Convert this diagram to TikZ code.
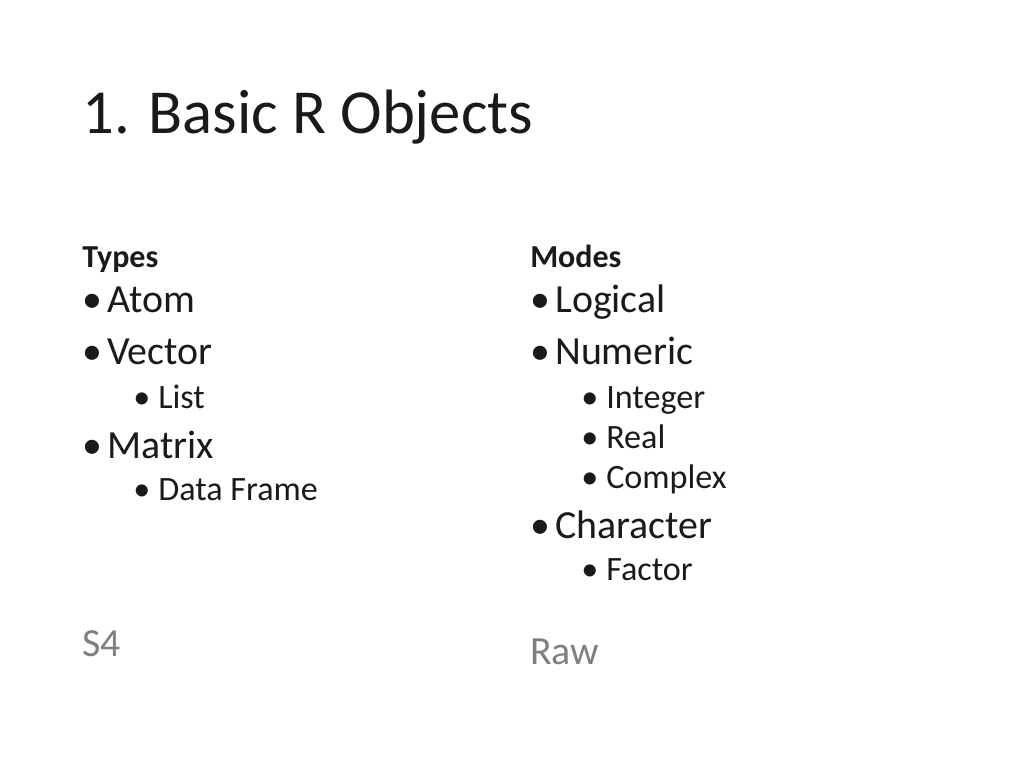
\documentclass[tikz,border=0pt]{standalone}
\usepackage{fontspec}
\setmainfont{Carlito}
\definecolor{txt}{HTML}{1A1A1A}
\definecolor{gr}{HTML}{7F7F7F}
\begin{document}
\begin{tikzpicture}[x=0.75pt,y=-0.75pt,
  t/.style={anchor=base west,inner sep=0pt,text=txt},
  title/.style={t,font=\fontsize{47}{50}\selectfont},
  head/.style={t,font=\fontsize{24}{26}\selectfont\bfseries},
  main/.style={t,font=\fontsize{29.9}{32}\selectfont},
  sub/.style={t,font=\fontsize{25.6}{28}\selectfont},
  gray/.style={t,text=gr,font=\fontsize{29.9}{32}\selectfont}]
\useasboundingbox[fill=white] (0,0) rectangle (1024,768);
\node[title] (ti) at (82,133) {1. Basic R Objects};
% left column
\node[head] (types) at (82,267) {Types};
\node[main] (b1) at (82,312) {•}; \node[main] (atom) at (107,312) {Atom};
\node[main] (b2) at (82,364) {•}; \node[main] (vec) at (107,364) {Vector};
\node[sub] (b3) at (133,408) {•}; \node[sub] (list) at (158,408) {List};
\node[main] (b4) at (82,458) {•}; \node[main] (mat) at (107,458) {Matrix};
\node[sub] (b5) at (133,500) {•}; \node[sub] (df) at (158,500) {Data Frame};
\node[gray] (s4) at (82,656) {S4};
% right column
\node[head] (modes) at (530,267) {Modes};
\node[main] (c1) at (530,312) {•}; \node[main] (log) at (555,312) {Logical};
\node[main] (c2) at (530,364) {•}; \node[main] (num) at (555,364) {Numeric};
\node[sub] (c3) at (581,408) {•}; \node[sub] (int) at (606,408) {Integer};
\node[sub] (c4) at (581,448) {•}; \node[sub] (real) at (606,448) {Real};
\node[sub] (c5) at (581,488) {•}; \node[sub] (cpx) at (606,488) {Complex};
\node[main] (c6) at (530,538) {•}; \node[main] (chr) at (555,538) {Character};
\node[sub] (c7) at (581,580) {•}; \node[sub] (fac) at (606,580) {Factor};
\node[gray] (raw) at (530,664) {Raw};
\end{tikzpicture}
\end{document}
